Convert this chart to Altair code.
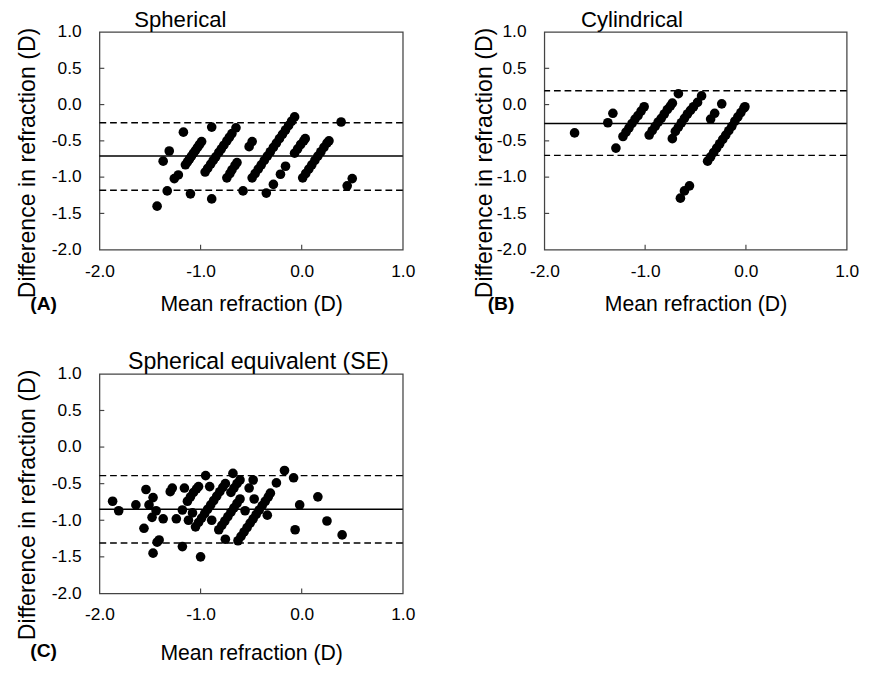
import altair as alt
import pandas as pd

FONT = "Liberation Sans"

x_ticks = [-2.0, -1.0, 0.0, 1.0]
y_ticks = [1.0, 0.5, 0.0, -0.5, -1.0, -1.5, -2.0]
inner_x_ticks = [-1.0, 0.0]
inner_y_ticks = [0.5, 0.0, -0.5, -1.0, -1.5]

x_title = "Mean refraction (D)"
y_title = "Difference in refraction (D)"

# ---------------- Panel A: Spherical ----------------
a_x = [-1.43, -1.33, -1.37, -1.31, -1.17, -1.26, -1.22, -1.10,
       -1.15, -1.13, -1.11, -1.09, -1.07, -1.05, -1.03, -1.01, -0.99,
       -0.955, -0.93, -0.90, -0.875, -0.85, -0.82, -0.795, -0.77, -0.74, -0.715, -0.69,
       -0.89, -0.89, -0.65,
       -0.74, -0.71, -0.69, -0.66, -0.64,
       -0.58, -0.52, -0.49,
       -0.49, -0.46, -0.43, -0.40, -0.37, -0.34, -0.31, -0.28, -0.25, -0.22, -0.19,
       -0.16, -0.13, -0.10, -0.07,
       -0.35, -0.28, -0.21, -0.16,
       -0.07, -0.04, -0.01, 0.02, 0.035,
       0.01, 0.04, 0.07, 0.10, 0.13, 0.16, 0.19, 0.22, 0.25, 0.27,
       0.39, 0.45, 0.50]
a_y = [-1.40, -1.19, -0.78, -0.64, -0.38, -1.02, -0.97, -1.23,
       -0.83, -0.79, -0.75, -0.71, -0.67, -0.63, -0.59, -0.55, -0.51,
       -0.93, -0.88, -0.82, -0.77, -0.72, -0.66, -0.61, -0.56, -0.50, -0.45, -0.40,
       -0.31, -1.30, -0.32,
       -1.01, -0.95, -0.90, -0.84, -0.80,
       -1.19, -0.58, -0.51,
       -1.01, -0.95, -0.89, -0.83, -0.77, -0.71, -0.65, -0.59, -0.53, -0.47, -0.41,
       -0.35, -0.29, -0.23, -0.17,
       -1.22, -1.10, -0.96, -0.85,
       -0.67, -0.61, -0.55, -0.50, -0.47,
       -1.01, -0.95, -0.89, -0.83, -0.77, -0.71, -0.65, -0.59, -0.53, -0.50,
       -0.24, -1.12, -1.02]
a_lines = [-0.25, -0.71, -1.18]   # upper limit, mean, lower limit

# ---------------- Panel B: Cylindrical ----------------
b_x = [-1.70, -1.37, -1.32, -1.29,
       -1.22, -1.19, -1.16, -1.13, -1.10, -1.07, -1.04, -1.01,
       -0.96, -0.93, -0.90, -0.87, -0.84, -0.81, -0.78, -0.75, -0.73,
       -0.67, -0.73,
       -0.70, -0.67, -0.64, -0.61, -0.58, -0.55, -0.52, -0.48,
       -0.44, -0.65, -0.61, -0.56, -0.35, -0.31, -0.24,
       -0.38, -0.35, -0.32, -0.29, -0.26, -0.23, -0.20, -0.17, -0.14, -0.11,
       -0.08, -0.05, -0.02, -0.01]
b_y = [-0.39, -0.25, -0.12, -0.60,
       -0.44, -0.38, -0.32, -0.26, -0.20, -0.15, -0.09, -0.03,
       -0.42, -0.36, -0.30, -0.24, -0.19, -0.13, -0.07, -0.02, 0.02,
       0.15, -0.47,
       -0.37, -0.31, -0.25, -0.19, -0.13, -0.08, -0.03, 0.03,
       0.12, -1.29, -1.19, -1.12, -0.20, -0.12, 0.01,
       -0.78, -0.72, -0.66, -0.60, -0.54, -0.48, -0.42, -0.36, -0.30, -0.23,
       -0.17, -0.11, -0.05, -0.03]
b_lines = [0.19, -0.26, -0.70]

# ---------------- Panel C: Spherical equivalent ----------------
c_x = [-1.87, -1.81, -1.64, -1.54, -1.56, -1.51, -1.47, -1.44, -1.48, -1.37,
       -1.47, -1.43, -1.41, -1.30, -1.28, -1.24, -1.18, -1.18, -1.16, -1.00,
       -0.95, -0.91, -0.89, -0.68, -0.755, -0.56, -0.52, -0.48, -0.47, -0.34,
       -0.25, -0.17, -0.08, -0.065, -0.02, 0.16, 0.25, 0.40,
       -1.13, -1.10, -1.07, -1.04, -1.02, -1.12, -1.08,
       -1.05, -1.02, -0.99, -0.96, -0.93, -0.90, -0.87, -0.84, -0.81, -0.78, -0.755,
       -0.82, -0.79, -0.76, -0.73, -0.70, -0.67, -0.64, -0.61,
       -0.70, -0.67, -0.64, -0.61,
       -0.63, -0.60, -0.57, -0.54, -0.51, -0.48, -0.45, -0.42, -0.39, -0.36, -0.33, -0.31]
c_y = [-0.74, -0.87, -0.79, -0.58, -1.11, -0.79, -0.69, -0.87, -0.96, -0.98,
       -1.45, -1.30, -1.27, -0.61, -0.56, -0.98, -0.86, -1.36, -0.56, -1.50,
       -0.39, -0.54, -1.00, -0.36, -1.26, -0.87, -0.56, -0.45, -0.71, -0.93,
       -0.49, -0.32, -0.42, -1.13, -0.79, -0.68, -1.01, -1.20,
       -0.74, -0.68, -0.62, -0.57, -0.54, -1.00, -0.90,
       -1.09, -1.03, -0.97, -0.91, -0.85, -0.79, -0.73, -0.67, -0.61, -0.55, -0.50,
       -1.13, -1.07, -1.01, -0.95, -0.89, -0.83, -0.77, -0.71,
       -0.62, -0.56, -0.50, -0.45,
       -1.28, -1.22, -1.16, -1.10, -1.04, -0.98, -0.92, -0.86, -0.80, -0.74, -0.68, -0.63]
c_lines = [-0.39, -0.85, -1.31]

LABEL_EXPR = "replace(format(datum.value, '.1f'), '\u2212', '-')"


def label(text, x, y, size, weight="normal", angle=0):
    kw = dict(font=FONT, fontSize=size, fontWeight=weight, align="center",
              baseline="middle", color="black")
    if angle:
        kw["angle"] = angle
    return alt.Chart(pd.DataFrame({"t": [text]})).mark_text(**kw).encode(
        text="t:N", x=alt.value(x), y=alt.value(y))


def panel(xs, ys, lines, title, title_cx, title_size, tag, tag_x, tag_y, W, H,
          ytitle_x, ytitle_y, xtitle_y, xlab_pad):
    x_enc = alt.X("x:Q", scale=alt.Scale(domain=[-2, 1], nice=False, zero=False),
                  axis=alt.Axis(values=x_ticks, labelExpr=LABEL_EXPR, title=None,
                                labelPadding=xlab_pad))
    y_enc = alt.Y("y:Q", scale=alt.Scale(domain=[-2, 1], nice=False, zero=False),
                  axis=alt.Axis(values=y_ticks, labelExpr=LABEL_EXPR, title=None,
                                labelPadding=19))
    pts = alt.Chart(pd.DataFrame({"x": xs, "y": ys})).mark_circle(
        size=100, color="black", opacity=1).encode(x=x_enc, y=y_enc)
    mean = alt.Chart(pd.DataFrame({"y": [lines[1]]})).mark_rule(
        color="black", strokeWidth=1.5).encode(y=y_enc)
    lims = alt.Chart(pd.DataFrame({"y": [lines[0], lines[2]]})).mark_rule(
        color="black", strokeWidth=1.5, strokeDash=[7, 4]).encode(y=y_enc)
    yt = alt.Chart(pd.DataFrame({"y": inner_y_ticks})).mark_rule(
        color="#444444", strokeWidth=1.2).encode(y=y_enc, x=alt.value(0), x2=alt.value(5))
    xt = alt.Chart(pd.DataFrame({"x": inner_x_ticks})).mark_rule(
        color="#444444", strokeWidth=1.2).encode(x=x_enc, y=alt.value(H), y2=alt.value(H - 5))
    texts = [
        label(title, title_cx, -12, title_size),
        label(y_title, ytitle_x, ytitle_y, 24, angle=270),
        label(x_title, W / 2 + 0.5, xtitle_y, 22),
        label(tag, tag_x, tag_y, 20, weight="bold"),
    ]
    return alt.layer(lims, mean, pts, yt, xt, *texts).properties(width=W, height=H)


A = panel(a_x, a_y, a_lines, "Spherical", 84, 23, "(A)", -58, 283, 315, 226,
          -74, 136, 283, 14)
B = panel(b_x, b_y, b_lines, "Cylindrical", 91, 23, "(B)", -45, 283, 314, 226,
          -61, 136, 283, 14)
C = panel(c_x, c_y, c_lines, "Spherical equivalent (SE)", 165, 24, "(C)", -58, 288, 315, 228,
          -74, 136, 290, 13)

top = alt.hconcat(A, B, spacing=59)
chart = alt.vconcat(top, C, spacing=35).configure_view(
    stroke="#444444", strokeWidth=1.3
).configure_axis(
    domain=False, ticks=False, grid=False,
    labelFont=FONT, labelFontSize=18, labelColor="black",
    labelFlush=False, labelOverlap=False
).properties(padding={"left": 8, "top": -12, "right": 5, "bottom": 5})

chart.save("out.html", embed_options={"renderer": "svg", "actions": False})
